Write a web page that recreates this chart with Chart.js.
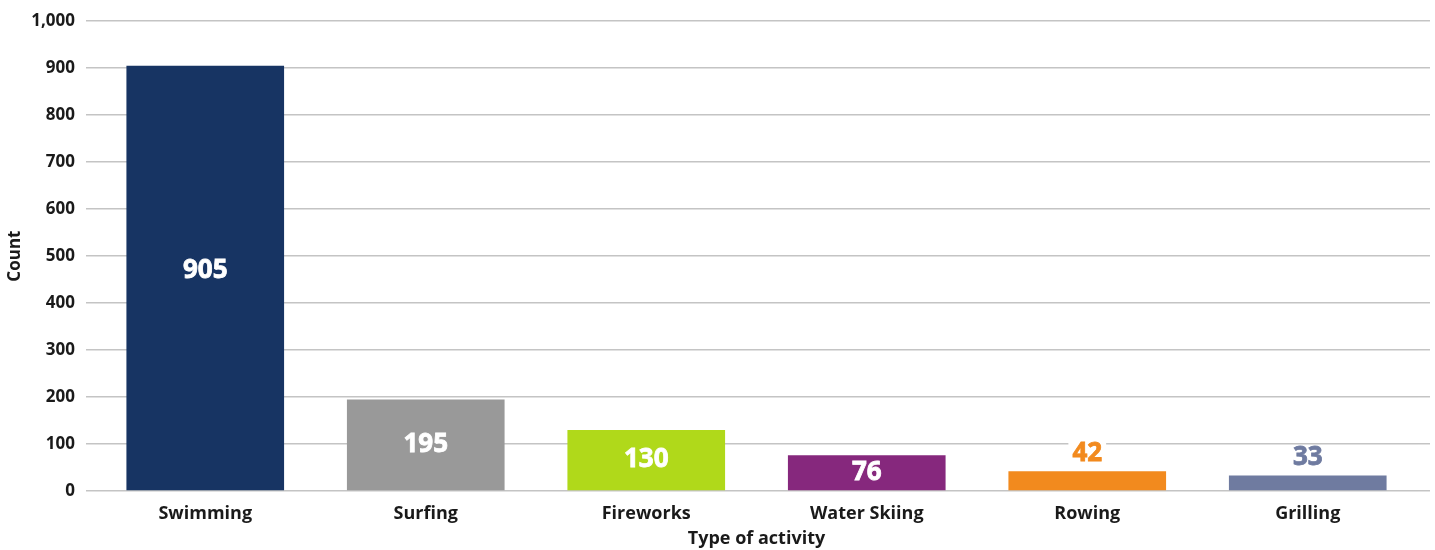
<!DOCTYPE html>
<html>
<head>
<meta charset="utf-8">
<script src="https://cdn.jsdelivr.net/npm/chart.js@4.4.1/dist/chart.umd.min.js"></script>
<style>
  html, body { margin: 0; padding: 0; background: #fff; }
  #wrap { width: 1435px; height: 550px; }
</style>
</head>
<body>
<div id="wrap"><canvas id="myChart"></canvas></div>
<script>
// data
const activities = ["Swimming", "Surfing", "Fireworks", "Water Skiing", "Rowing", "Grilling"];
const counts = [905, 195, 130, 76, 42, 33];
const barColors = ["#173463", "#999999", "#b0d91a", "#86287d", "#f28a1e", "#6f7ba0"];
const yTicks = [0, 100, 200, 300, 400, 500, 600, 700, 800, 900, 1000];

const gridColor = "#c4c4c4";
const fontFamily = "'Open Sans', sans-serif";

// value labels: inside the bar when it's tall enough, above it otherwise
const barLabels = {
  id: "barLabels",
  afterDatasetsDraw(chart) {
    const ctx = chart.ctx;
    const meta = chart.getDatasetMeta(0);
    ctx.save();
    ctx.font = "bold 26px " + fontFamily;
    ctx.textAlign = "center";
    ctx.textBaseline = "middle";
    meta.data.forEach((bar, i) => {
      const text = String(counts[i]);
      const h = bar.base - bar.y;
      if (h > 30) {
        ctx.fillStyle = "#ffffff";
        ctx.lineWidth = 0.8;
        ctx.strokeStyle = "#ffffff";
        const y = h > 300 ? (bar.y + bar.base) / 2 - 7 : (bar.y + bar.base) / 2;
        ctx.fillText(text, bar.x, y);
        ctx.strokeText(text, bar.x, y);
      } else {
        const y = bar.y - 18;
        const w = ctx.measureText(text).width;
        ctx.fillStyle = "#ffffff";
        ctx.fillRect(bar.x - w / 2 - 4, y - 12, w + 8, 24);
        ctx.fillStyle = barColors[i];
        ctx.strokeStyle = barColors[i];
        ctx.lineWidth = 0.8;
        ctx.fillText(text, bar.x, y);
        ctx.strokeText(text, bar.x, y);
      }
    });
    ctx.restore();
  },
};

new Chart(document.getElementById("myChart"), {
  type: "bar",
  data: {
    labels: activities,
    datasets: [
      {
        label: "Count",
        data: counts,
        backgroundColor: barColors,
        categoryPercentage: 1,
        barPercentage: 0.715,
      },
    ],
  },
  options: {
    responsive: true,
    maintainAspectRatio: false,
    animation: false,
    layout: { padding: { top: 12, left: 0, right: 0, bottom: 0 } },
    plugins: {
      legend: { display: false },
      tooltip: { enabled: false },
    },
    scales: {
      x: {
        grid: { display: false },
        border: { display: false },
        ticks: {
          color: "#1a1a1a",
          padding: 4,
          font: { family: fontFamily, size: 18, weight: "bold" },
        },
        title: {
          display: true,
          text: "Type of activity",
          color: "#1a1a1a",
          padding: { top: 0, bottom: 0 },
          font: { family: fontFamily, size: 18, weight: "bold" },
        },
        afterFit(scale) {
          scale.height = 59;
        },
      },
      y: {
        min: 0,
        max: 1000,
        afterBuildTicks(scale) {
          scale.ticks = yTicks.map((v) => ({ value: v }));
        },
        grid: { color: gridColor, lineWidth: 1.5, tickLength: 9 },
        border: { display: false },
        ticks: {
          color: "#1a1a1a",
          padding: 11,
          callback: (v) => v.toLocaleString("en-US"),
          font: { family: fontFamily, size: 17, weight: "bold" },
        },
        title: {
          display: true,
          text: "Count",
          color: "#1a1a1a",
          padding: { top: 5, bottom: 0 },
          font: { family: fontFamily, size: 17, weight: "bold" },
        },
        afterFit(scale) {
          scale.width = 95;
        },
      },
      yRight: {
        position: "right",
        min: 0,
        max: 1000,
        afterBuildTicks(scale) {
          scale.ticks = yTicks.map((v) => ({ value: v }));
        },
        grid: { color: gridColor, lineWidth: 1.5, tickLength: 12, drawOnChartArea: false },
        border: { display: false },
        ticks: { display: false },
        afterFit(scale) {
          scale.width = 17;
        },
      },
    },
  },
  plugins: [barLabels],
});
</script>
</body>
</html>
